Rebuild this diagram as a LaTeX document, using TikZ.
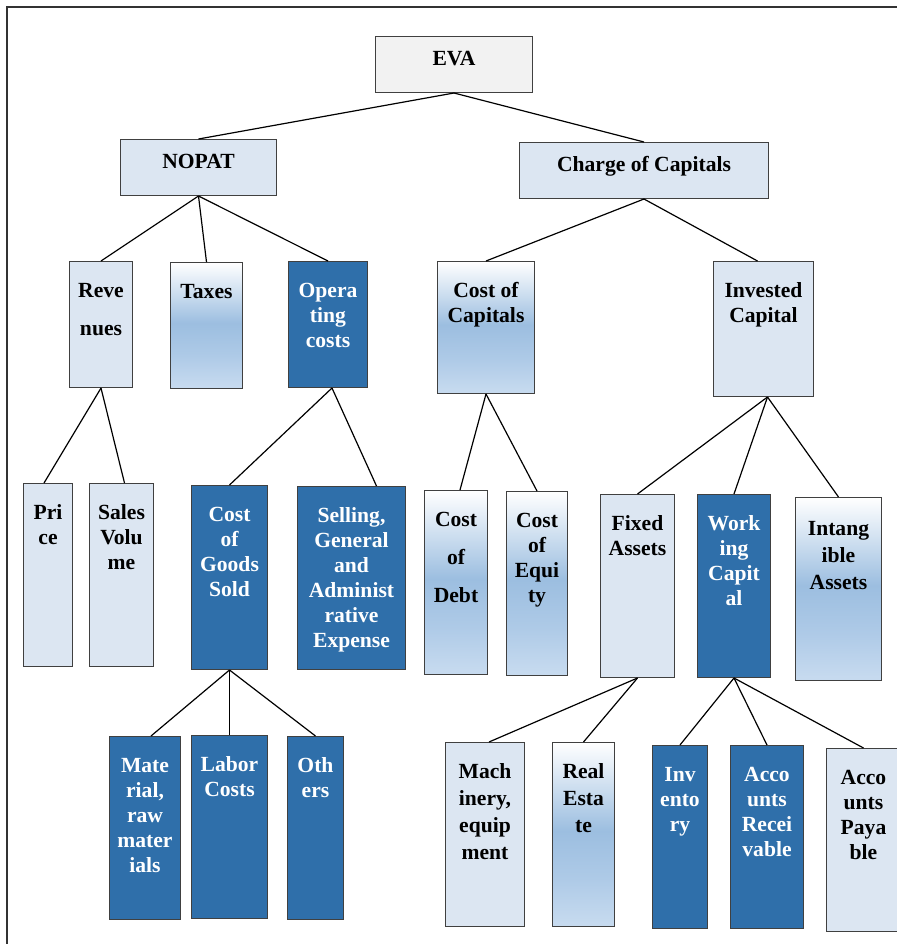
\documentclass[tikz,border=0pt]{standalone}
\usepackage{fontspec}
\setmainfont{Liberation Serif}
\usepackage{tikz}

\definecolor{boxgrey}{RGB}{242,242,242}
\definecolor{boxlite}{RGB}{220,230,242}
\definecolor{boxdark}{RGB}{47,111,170}
\definecolor{gmid}{RGB}{156,190,224}
\definecolor{glow}{RGB}{174,202,231}
\definecolor{gbot}{RGB}{198,218,239}
\pgfdeclareverticalshading{wordgrad}{100bp}{color(0bp)=(gbot); color(26bp)=(gbot); color(38bp)=(glow); color(51bp)=(gmid); color(75bp)=(white); color(100bp)=(white)}

% box with its text at the top: [first baseline]{name}{style}{x1}{y1}{x2}{y2}{text}
\newcommand{\blk}[8][18pt]{%
  \node[#3, anchor=north west] (#2) at (#4,#5)
    {\parbox[c][\dimexpr(#7pt-#5pt)/2\relax][t]{\dimexpr(#6pt-#4pt)/2\relax}{\centering\rule{0pt}{#1}#8}};}

\begin{document}
\begin{tikzpicture}[x=0.5pt, y=-0.5pt,
  blkbase/.style={draw=black!75, line width=0.5pt, inner sep=0pt,
    font=\fontsize{10.8}{12.5}\selectfont\bfseries},
  grey/.style={blkbase, fill=boxgrey},
  lite/.style={blkbase, fill=boxlite},
  dark/.style={blkbase, fill=boxdark, text=white},
  grad/.style={blkbase, shade, shading=wordgrad},
  link/.style={draw=black, line width=0.6pt}]
\useasboundingbox (0,0) rectangle (897,944);
\draw[black!80, line width=1pt] (7,944) -- (7,7) -- (897,7);

% top levels
\blk[14.5pt]{eva}{grey}{375}{36}{532}{92}{EVA}
\blk[14.5pt]{nopat}{lite}{120}{139}{276}{195}{NOPAT}
\blk[14.5pt]{chg}{lite}{519}{142}{768}{198}{Charge of Capitals}

\blk{rev}{lite}{69}{261}{132}{387}{Reve\\[6.5pt]nues}
\blk{tax}{grad}{170}{262}{242}{388}{Taxes}
\blk{opc}{dark}{288}{261}{367}{387}{Opera\\ting\\costs}
\blk{cap}{grad}{437}{261}{534}{393}{Cost of\\Capitals}
\blk{inv}{lite}{713}{261}{813}{396}{Invested\\Capital}

% third level
\blk{price}{lite}{23}{483}{72}{666}{Pri\\ce}
\blk{svol}{lite}{89}{483}{153}{666}{Sales\\Volu\\me}
\blk{cogs}{dark}{191}{485}{267}{669}{Cost\\of\\Goods\\Sold}
\blk{sga}{dark}{297}{486}{405}{669}{Selling,\\General\\and\\Administ\\rative\\Expense}
\blk{debt}{grad}{424}{490}{487}{674}{Cost\\[6.5pt]of\\[6.5pt]Debt}
\blk{eqty}{grad}{506}{491}{567}{675}{Cost\\of\\Equi\\ty}
\blk{fix}{lite}{600}{494}{674}{677}{Fixed\\Assets}
\blk{wcap}{dark}{697}{494}{770}{677}{Work\\ing\\Capit\\al}
\blk[19pt]{intg}{grad}{795}{497}{881}{680}{Intang\\[1pt]ible\\[1pt]Assets}

% bottom level
\blk{mat}{dark}{109}{736}{180}{919}{Mate\\rial,\\raw\\mater\\ials}
\blk{lab}{dark}{191}{735}{267}{918}{Labor\\Costs}
\blk{oth}{dark}{287}{736}{343}{919}{Oth\\ers}
\blk{mach}{lite}{445}{742}{524}{926}{Mach\\[1pt]inery,\\[1pt]equip\\[1pt]ment}
\blk{real}{grad}{552}{742}{614}{926}{Real\\[1pt]Esta\\[1pt]te}
\blk{invt}{dark}{652}{745}{707}{928}{Inv\\ento\\ry}
\blk{arec}{dark}{730}{745}{803}{928}{Acco\\unts\\Recei\\vable}
\blk{apay}{lite}{826}{748}{900}{931}{Acco\\unts\\Paya\\ble}

\path[link]
(eva.south) edge (nopat.north)
(eva.south) edge (chg.north)

(nopat.south) edge (rev.north)
(nopat.south) edge (tax.north)
(nopat.south) edge (opc.north)
(chg.south) edge (cap.north)
(chg.south) edge ([xshift=-3pt]inv.north)

(rev.south) edge ([xshift=-2pt]price.north)
(rev.south) edge ([xshift=1.5pt]svol.north)
([xshift=2pt]opc.south) edge (cogs.north)
([xshift=2pt]opc.south) edge ([xshift=12.5pt]sga.north)
(cap.south) edge ([xshift=2pt]debt.north)
(cap.south) edge (eqty.north)
([xshift=2pt]inv.south) edge (fix.north)
([xshift=2pt]inv.south) edge (wcap.north)
([xshift=2pt]inv.south) edge (intg.north)

(cogs.south) edge ([xshift=3pt]mat.north)
(cogs.south) edge (lab.north)
(cogs.south) edge (oth.north)
(fix.south) edge ([xshift=2pt]mach.north)
(fix.south) edge (real.north)
(wcap.south) edge (invt.north)
(wcap.south) edge (arec.north)
(wcap.south) edge (apay.north);
\end{tikzpicture}
\end{document}
